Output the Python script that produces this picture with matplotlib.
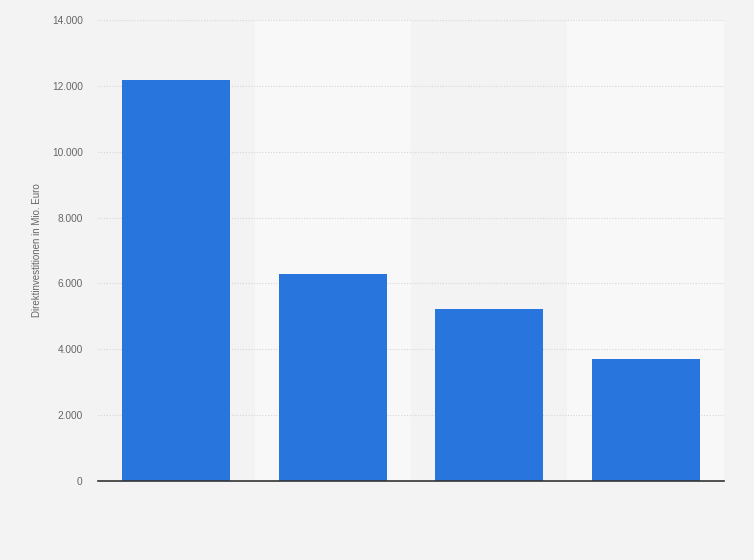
import matplotlib.pyplot as plt
from matplotlib.ticker import FuncFormatter

# values (Mio. Euro)
categories = ['', '', '', '']
values = [12180, 6280, 5210, 3700]
y_ticks = [0, 2000, 4000, 6000, 8000, 10000, 12000, 14000]

BG = '#f3f3f3'
BAND = '#f8f8f8'
BAR = '#2876dd'

plt.rcParams['font.family'] = ['Liberation Sans', 'DejaVu Sans']

fig = plt.figure(figsize=(7.54, 5.6), dpi=100, facecolor=BG)
ax = fig.add_axes([0.1300, 0.1411, 0.9602 - 0.1300, 0.9643 - 0.1411])
ax.set_facecolor(BG)

x = list(range(len(values)))
# alternating column shading
for i in x:
    if i % 2 == 1:
        ax.axvspan(i - 0.5, i + 0.5, color=BAND, zorder=0, lw=0)

ax.bar(x, values, width=0.69, color=BAR, zorder=3)

ax.set_xlim(-0.5, len(values) - 0.5)
ax.set_ylim(0, 14000)
ax.set_yticks(y_ticks)
ax.yaxis.set_major_formatter(FuncFormatter(lambda v, p: f'{int(v):,}'.replace(',', '.')))
ax.set_xticks(x)
ax.set_xticklabels(categories)

ax.grid(axis='y', color='#d6d6d6', linestyle=(0, (1, 1.5)), linewidth=0.8, zorder=1)
ax.grid(axis='x', visible=False)
for s in ['top', 'right', 'left']:
    ax.spines[s].set_visible(False)
ax.spines['bottom'].set_color('#333333')
ax.spines['bottom'].set_linewidth(1.2)
ax.spines['bottom'].set_zorder(4)

ax.tick_params(axis='y', length=0, pad=11, labelsize=7.3, labelcolor='#666666')
ax.tick_params(axis='x', length=0)
ax.set_ylabel('Direktinvestitionen in Mio. Euro', fontsize=7, color='#666666', labelpad=7)

fig.savefig('out.png', dpi=100, facecolor=BG)
